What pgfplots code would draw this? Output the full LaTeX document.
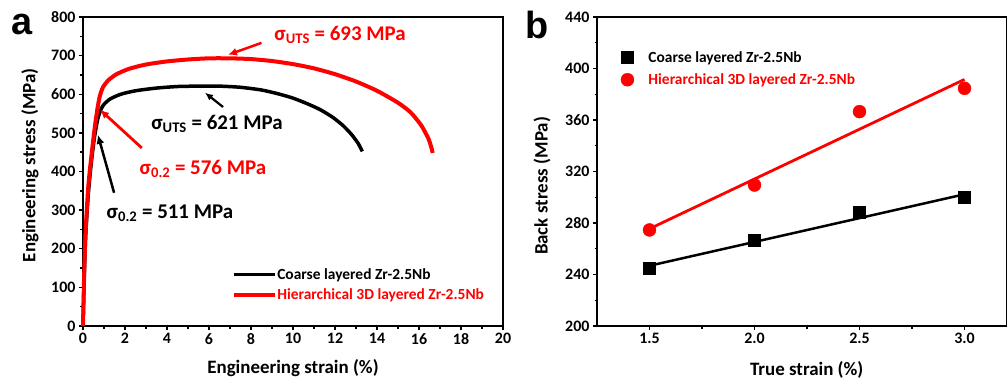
\documentclass[border=0pt]{standalone}
\usepackage{pgfplots}
\pgfplotsset{compat=1.18}
\usepackage{fontspec}
\setmainfont{Carlito}
\newfontfamily\letterfont{Liberation Sans}
\usetikzlibrary{arrows.meta}
\definecolor{myred}{RGB}{255,0,0}
\pgfplotsset{
  panel/.style={
    scale only axis,
    axis line style={line width=1.6bp},
    tick style={line width=1.4bp,black},
    major tick length=4bp,
    minor tick length=2.5bp,
    tick align=outside,
    tick pos=left,
    minor tick num=1,
    /pgf/number format/assume math mode=true,
    ticklabel style={font=\fontsize{16}{18}\selectfont\bfseries},
    label style={font=\fontsize{19}{22}\selectfont\bfseries},
    clip=false,
  }
}
\begin{document}
\begin{tikzpicture}
\useasboundingbox (0,0) rectangle (1008bp,385bp);
% ---------------- panel a ----------------
\begin{axis}[panel,
  at={(83bp,59bp)}, anchor=south west,
  width=420bp, height=309bp,
  xmin=0, xmax=20, ymin=0, ymax=800,
  xtick={0,2,...,20}, ytick={0,100,...,800},
  xlabel={Engineering strain (\%)},
  ylabel={Engineering stress (MPa)},
  xlabel style={at={(axis description cs:0.5,-0.136)},anchor=center},
  ylabel style={at={(axis description cs:-0.126,0.52)},anchor=center},
  legend style={draw=none, fill=none, at={(axis description cs:0.355,0.19)}, anchor=north west,
    font=\fontsize{15.5}{17}\selectfont\bfseries, inner sep=0pt, row sep=6bp,
    nodes={inner xsep=0pt, inner ysep=1pt}},
  legend cell align=left,
  legend image code/.code={\draw[#1] (0bp,0bp) -- (41bp,0bp);},
]
\addplot[black, line width=3.5bp, smooth, tension=0.4] coordinates {
(0,0) (0.05,110) (0.12,225) (0.25,340) (0.4,425) (0.55,490) (0.7,535) (0.85,560)
(1.0,574) (1.3,588) (1.8,600) (2.5,609) (3.5,616) (4.5,620) (5.5,621) (6.5,621)
(7.5,618) (8.5,611) (9.3,601) (10,590) (10.7,575) (11.3,560) (11.9,540) (12.4,518)
(12.8,495) (13.1,473) (13.3,452)
};
\addlegendentry{Coarse layered Zr-2.5Nb}
\addplot[myred, line width=4bp, smooth, tension=0.4] coordinates {
(0,0) (0.05,120) (0.12,240) (0.25,360) (0.4,440) (0.55,510) (0.68,560) (0.8,595)
(0.95,618) (1.2,636) (1.6,652) (2.2,666) (3,677) (4,685) (5,690) (6,693) (7,693)
(8,691) (9,686) (10,678) (11,667) (12,652) (13,633) (14,609) (15,578) (15.6,553)
(16.1,520) (16.45,485) (16.6,460) (16.65,448)
};
\addlegendentry[text=myred]{Hierarchical 3D layered Zr-2.5Nb}
% annotations
\node[myred, font=\fontsize{21}{22}\selectfont\bfseries] at (axis cs:12.24,754) {σ\textsubscript{UTS} = 693 MPa};
\node[black, font=\fontsize{21}{22}\selectfont\bfseries] at (axis cs:6.38,523) {σ\textsubscript{UTS} = 621 MPa};
\node[myred, font=\fontsize{21}{22}\selectfont\bfseries] at (axis cs:5.71,407) {σ\textsubscript{0.2} = 576 MPa};
\node[black, font=\fontsize{21}{22}\selectfont\bfseries] at (axis cs:4.14,293) {σ\textsubscript{0.2} = 511 MPa};
\draw[myred, line width=2.5bp, -{Latex[length=9bp,width=8bp]}] (axis cs:8.5,733) -- (axis cs:6.9,702);
\draw[black, line width=2.2bp, -{Latex[length=8bp,width=7bp]}] (axis cs:6.67,567) -- (axis cs:5.81,604);
\draw[myred, line width=2.8bp, -{Latex[length=9bp,width=8bp]}] (axis cs:2.8,461) -- (axis cs:0.81,560);
\draw[black, line width=2.5bp, -{Latex[length=9bp,width=8bp]}] (axis cs:1.48,345) -- (axis cs:0.71,495);
\end{axis}
% ---------------- panel b ----------------
\begin{axis}[panel,
  at={(597bp,59bp)}, anchor=south west,
  width=409.5bp, height=309bp,
  xmin=1.25, xmax=3.2, ymin=200, ymax=440,
  xtick={1.5,2.0,2.5,3.0}, ytick={200,240,...,440},
  xticklabel style={/pgf/number format/.cd, fixed, fixed zerofill, precision=1},
  xlabel={True strain (\%)},
  ylabel={Back stress (MPa)},
  xlabel style={at={(axis description cs:0.512,-0.142)},anchor=center},
  ylabel style={at={(axis description cs:-0.134,0.453)},anchor=center},
  legend style={draw=none, fill=none, at={(axis description cs:0.058,0.893)}, anchor=north west,
    font=\fontsize{15.5}{17}\selectfont\bfseries, inner sep=0pt, row sep=8bp,
    nodes={inner xsep=0pt, inner ysep=1pt}},
  legend cell align=left,
  legend image code/.code={\path[#1, draw=none, mark repeat=2, mark phase=2] plot coordinates {(0bp,0bp) (6bp,0bp) (12bp,0bp)}; \path[draw=none, fill=none] (0bp,0bp) -- (27bp,0bp);},
]
\addplot[black, only marks, mark=square*, mark size=6bp, forget plot] coordinates {
(1.5,245) (2.0,267) (2.5,288.3) (3.0,300)
};
\addplot[myred, only marks, mark=*, mark size=6.5bp, forget plot] coordinates {
(1.5,274.6) (2.0,309.5) (2.5,366.5) (3.0,384.6)
};
\addplot[black, line width=2.5bp, forget plot] coordinates {(1.5,246.8) (3.0,302.3)};
\addplot[myred, line width=2.8bp, forget plot] coordinates {(1.5,275.5) (3.0,391.5)};
\addlegendimage{black, mark=square*, mark size=6bp, mark options={draw=black, fill=black}}
\addlegendentry{Coarse layered Zr-2.5Nb}
\addlegendimage{myred, mark=*, mark size=6.5bp, mark options={draw=myred, fill=myred}}
\addlegendentry[text=myred]{Hierarchical 3D layered Zr-2.5Nb}
\end{axis}
\node[font=\letterfont\fontsize{38}{40}\selectfont\bfseries] at (22bp,360bp) {a};
\node[font=\letterfont\fontsize{38}{40}\selectfont\bfseries] at (537bp,360bp) {b};
\end{tikzpicture}
\end{document}
